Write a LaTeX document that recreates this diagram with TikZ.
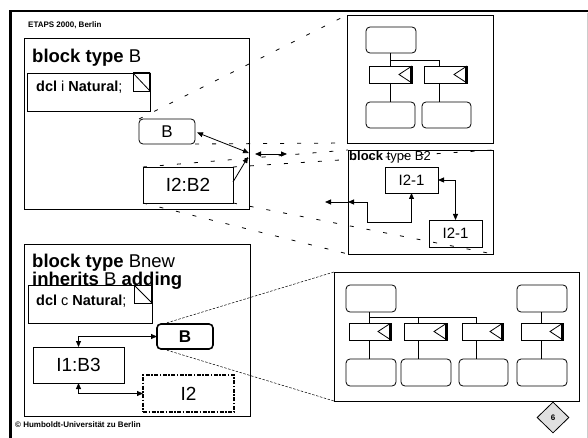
\documentclass[tikz,border=0pt]{standalone}
\usepackage{fontspec}
\setmainfont{Liberation Sans}
\usetikzlibrary{arrows.meta,shapes.geometric}
\begin{document}
\begin{tikzpicture}[x=1pt,y=-1pt,
  box/.style={draw, line width=0.8pt, inner sep=0pt, outer sep=0pt, anchor=north west},
  rbox/.style={box, rounded corners=4pt},
  lbl/.style={inner sep=0pt, anchor=base west},
  sz/.style={font=\fontsize{#1}{#1}\selectfont},
  proc/.style={box, minimum height=17pt, path picture={
    \draw[line width=0.8pt] (path picture bounding box.north east)
      -- ([xshift=-13pt]path picture bounding box.east)
      -- (path picture bounding box.south east);
    \draw[line width=1.8pt] ([xshift=-0.9pt]path picture bounding box.north east)
      -- ([xshift=-0.9pt]path picture bounding box.south east);}},
  corner/.style={box, path picture={
    \draw[line width=0.8pt] (path picture bounding box.north west)
      -- (path picture bounding box.south east);
    \draw[line width=2pt] (path picture bounding box.north west)
      -- (path picture bounding box.north east)
      -- (path picture bounding box.south east);}},
  zoomline/.style={line width=0.8pt, dash pattern=on 4pt off 13pt},
  fineline/.style={line width=0.5pt, dash pattern=on 2.5pt off 1.5pt},
  tip/.tip={Triangle[length=6pt,width=5pt]},
  arr/.style={line width=0.8pt, -tip},
  darr/.style={line width=0.8pt, tip-tip},
]
\useasboundingbox (0,0) rectangle (588,438);

% slide frame
\draw[line width=2.5pt] (10.5,438) -- (10.5,11) -- (588,11);
\draw[black!20, line width=1pt] (587.3,13) -- (587.3,438);

\node[lbl, font=\bfseries\fontsize{8}{9}\selectfont] (hdr) at (28,27.5) {ETAPS 2000, Berlin};
\node[lbl, font=\bfseries\fontsize{8}{9}\selectfont] (copy) at (15,427) {© Humboldt-Universität zu Berlin};

% ---------- block type B ----------
\node[box, minimum width=225pt, minimum height=171pt] (bt) at (24,38) {};
\node[lbl, sz=18.5] (btT) at (32,63) {\textbf{block type} B};
\node[box, minimum width=123pt, minimum height=38pt] (dclA) at (27,73) {};
\node[corner, minimum width=17pt, minimum height=18pt] (sqA) at (133,73) {};
\node[lbl, sz=14.5] (dclAT) at (36,92) {\textbf{dcl} i \textbf{Natural};};
\node[rbox, minimum width=56pt, minimum height=25pt] (bA) at (139,119) {};
\node[sz=17, inner sep=0pt] at (bA.center) {B};
\node[box, minimum width=90pt, minimum height=36pt] (iA) at (143,167) {};
\node[sz=19, inner sep=0pt] at (iA.center) {I2:B2};

\coordinate (J) at (249,153);
\coordinate (J2) at (248,157);
\coordinate (L1) at (255,154);
\coordinate (L2) at (287,154);
\draw[darr] (J) -- ([xshift=2pt,yshift=-1pt]bA.east);
\draw[arr] ([yshift=3pt]iA.east) -- (J2);
\draw[darr] (L1) -- (L2);

% ---------- expanded views (top) ----------
\node[box, minimum width=146pt, minimum height=128pt] (trA) at (347,15) {};
\node[box, minimum width=145pt, minimum height=104pt] (bB2) at (348,150) {};

\draw[zoomline] (bA.north west) -- (trA.north west);
\draw[zoomline] (bA.south east) -- (trA.south west);
\draw[zoomline] (iA.north west) -- (bB2.north west);
\draw[zoomline] (iA.south west) -- (bB2.south west);
\draw[zoomline] (iA.north east) -- (bB2.north east);
\draw[zoomline] (iA.south east) -- (bB2.south east);

% contents of the upper right box
\node[rbox, minimum width=50pt, minimum height=26pt] (ta) at (366,27) {};
\node[proc, minimum width=43pt] (tp1) at (369,66) {};
\node[proc, minimum width=43pt] (tp2) at (424,66) {};
\node[rbox, minimum width=49pt, minimum height=26pt] (tb1) at (366,102) {};
\node[rbox, minimum width=49pt, minimum height=26pt] (tb2) at (422,102) {};
\coordinate (tx1) at (390,60);
\coordinate (tx2) at (439,60);
\draw[line width=0.8pt] (tx1 |- ta.south) -- (tx1 |- tp1.north);
\draw[line width=0.8pt] (tx1) -- (tx2) -- (tx2 |- tp2.north);
\draw[line width=0.8pt] (tx1 |- tp1.south) -- (tx1 |- tb1.north);
\draw[line width=0.8pt] (tx2 |- tp2.south) -- (tx2 |- tb2.north);

% block type B2
\node[lbl, sz=13] (b2T) at (349,161) {\textbf{block} type B2};
\node[box, minimum width=53pt, minimum height=26pt] (ia1) at (385,167) {};
\node[sz=15, inner sep=0pt] at (ia1.center) {I2-1};
\node[box, minimum width=53pt, minimum height=27pt] (ia2) at (429,220) {};
\node[sz=15, inner sep=0pt] at (ia2.center) {I2-1};
\coordinate (bend) at (367,222);
\coordinate (outl) at (325,202);
\draw[darr] (ia1.east) -| (ia2.north);
\draw[darr] (ia1.south) |- (bend) |- (bB2.west);
\draw[arr] (bB2.west) -- (outl);

% ---------- block type Bnew ----------
\node[box, minimum width=226pt, minimum height=172pt] (bn) at (24,244) {};
\node[lbl, sz=18.5] (bnT1) at (32,267) {\textbf{block type} Bnew};
\node[lbl, sz=18.5] (bnT2) at (32,285.5) {\textbf{inherits} B \textbf{adding}};
\node[box, minimum width=124pt, minimum height=38pt] (dclB) at (28,285) {};
\node[corner, minimum width=18pt, minimum height=18pt] (sqB) at (134,285) {};
\node[lbl, sz=14.5] (dclBT) at (36,305) {\textbf{dcl} c \textbf{Natural};};
\node[rbox, line width=1.6pt, minimum width=56pt, minimum height=25pt] (bB) at (157,324) {};
\node[sz=17, inner sep=0pt] at (bB.center) {\textbf{B}};
\node[box, minimum width=91pt, minimum height=36pt] (i1) at (33,347) {};
\node[sz=19, inner sep=0pt] at (i1.center) {I1:B3};
\node[box, line width=1.6pt, dash pattern=on 4pt off 1.5pt on 1.5pt off 1.5pt,
      minimum width=91pt, minimum height=37pt] (i2) at (143,375) {};
\node[sz=19, inner sep=0pt] at (i2.center) {I2};
\draw[darr] (bB.west) -| (i1.north);
\draw[darr] (i1.south) |- (i2.west);

% ---------- expanded view (bottom) ----------
\node[box, minimum width=245pt, minimum height=129pt] (big) at (334,272) {};
\draw[fineline] ([xshift=6pt]bB.north west) -- (big.north west);
\draw[fineline] ([xshift=6pt]bB.south west) -- (big.south west);

\node[rbox, minimum width=50pt, minimum height=27pt] (ua) at (346,285) {};
\node[rbox, minimum width=50pt, minimum height=27pt] (ub) at (517,285) {};
\node[proc, minimum width=42pt] (q1) at (349,323) {};
\node[proc, minimum width=43pt] (q2) at (404,323) {};
\node[proc, minimum width=41pt] (q3) at (462,323) {};
\node[proc, minimum width=42pt] (q4) at (521,323) {};
\node[rbox, minimum width=50pt, minimum height=27pt] (d1) at (346,359) {};
\node[rbox, minimum width=50pt, minimum height=27pt] (d2) at (401,359) {};
\node[rbox, minimum width=49pt, minimum height=27pt] (d3) at (459,359) {};
\node[rbox, minimum width=50pt, minimum height=27pt] (d4) at (517,359) {};
\coordinate (ux1) at (369,317);
\coordinate (ux2) at (418,317);
\coordinate (ux3) at (476,317);
\coordinate (ux4) at (541,317);
\draw[line width=0.8pt] (ux1 |- ua.south) -- (ux1 |- q1.north);
\draw[line width=0.8pt] (ux1) -- (ux3) -- (ux3 |- q3.north);
\draw[line width=0.8pt] (ux2) -- (ux2 |- q2.north);
\draw[line width=0.8pt] (ux4 |- ub.south) -- (ux4 |- q4.north);
\draw[line width=0.8pt] (ux1 |- q1.south) -- (ux1 |- d1.north);
\draw[line width=0.8pt] (ux2 |- q2.south) -- (ux2 |- d2.north);
\draw[line width=0.8pt] (ux3 |- q3.south) -- (ux3 |- d3.north);
\draw[line width=0.8pt] (ux4 |- q4.south) -- (ux4 |- d4.north);

% page number
\node[diamond, draw, line width=0.8pt, fill=black!12, minimum width=32pt, minimum height=31pt,
      inner sep=0pt, font=\bfseries\fontsize{8}{9}\selectfont] (pg) at (553,417.5) {6};
\end{tikzpicture}
\end{document}
